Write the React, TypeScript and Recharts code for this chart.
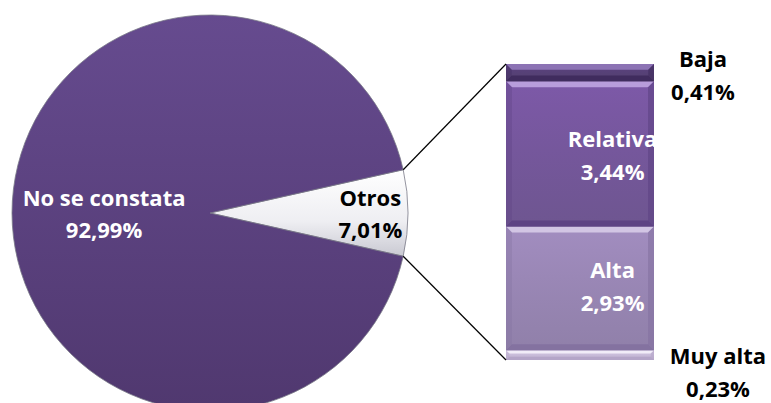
import React from 'react';
import { PieChart, Pie, Cell, BarChart, Bar, XAxis, YAxis, LabelList } from 'recharts';

const pieCategories = ['Otros', 'No se constata'];
const pieValues = [7.01, 92.99];
const pieLabels = ['7,01%', '92,99%'];

const barCategories = ['Muy alta', 'Alta', 'Relativa', 'Baja'];
const barValues = [0.23, 2.93, 3.44, 0.41];
const barLabels = ['0,23%', '2,93%', '3,44%', '0,41%'];
const barKeys = ['muyAlta', 'alta', 'relativa', 'baja'];

const W = 771;
const H = 403;
const PIE_CX = 210;
const PIE_CY = 213;
const PIE_R = 198;
const BAR_MARGIN = { top: 64, bottom: 43, left: 506, right: 117 };

const FONT = '"Open Sans", Lato, sans-serif';
const FS = 22;

const pieData = pieCategories.map((name, i) => ({ name, value: pieValues[i], label: pieLabels[i] }));
const otrosTotal = pieValues[0];
const halfAngle = (otrosTotal / 100) * 360 / 2;

const barRow: Record<string, any> = { name: 'Otros' };
barKeys.forEach((k, i) => { barRow[k] = barValues[i]; });
const barData = [barRow];

const barFills: Record<string, { base: string; light: string; dark: string; text: string }> = {
  muyAlta: { base: '#d6cae6', light: '#f1ecf8', dark: '#b4a5c8', text: '#000' },
  alta: { base: '#a28dc0', light: '#d2c5e4', dark: '#8472a0', text: '#fff' },
  relativa: { base: '#7d59a8', light: '#b89ddb', dark: '#5e4384', text: '#fff' },
  baja: { base: '#5c4282', light: '#8c73b4', dark: '#402c5e', text: '#000' },
};

const makeBevel = (key: string) => (props: any) => {
  const { x, y, width, height } = props;
  const c = barFills[key];
  const b = Math.max(1, Math.min(6, height / 3));
  return (
    <g>
      <rect x={x} y={y} width={width} height={height} fill={`url(#grad-${key})`} />
      <polygon points={`${x},${y} ${x + width},${y} ${x + width - b},${y + b} ${x + b},${y + b}`} fill={c.light} />
      <polygon points={`${x},${y + height} ${x + width},${y + height} ${x + width - b},${y + height - b} ${x + b},${y + height - b}`} fill={c.dark} />
      <polygon points={`${x},${y} ${x + b},${y + b} ${x + b},${y + height - b} ${x},${y + height}`} fill={c.dark} opacity={0.35} />
      <polygon points={`${x + width},${y} ${x + width - b},${y + b} ${x + width - b},${y + height - b} ${x + width},${y + height}`} fill={c.dark} opacity={0.6} />
    </g>
  );
};

const makeBarLabel = (idx: number) => (props: any) => {
  const { x, y, width, height } = props;
  const key = barKeys[idx];
  const c = barFills[key];
  let cx = x + width * 0.72;
  let y1 = y + height / 2 - 16;
  if (key === 'baja') {
    cx = x + width + 49;
    y1 = y - 6;
  } else if (key === 'muyAlta') {
    cx = x + width + 64;
    y1 = y + 5;
  } else if (key === 'alta') {
    y1 = y + height / 2 - 19;
  }
  return (
    <text textAnchor="middle" fill={c.text} fontFamily={FONT} fontWeight={700} fontSize={FS} dominantBaseline="central">
      <tspan x={cx} y={y1}>{barCategories[idx]}</tspan>
      <tspan x={cx} y={y1 + 33}>{barLabels[idx]}</tspan>
    </text>
  );
};

const renderPieLabel = (props: any) => {
  const { cx, cy, midAngle, outerRadius, index } = props;
  const rad = (Math.PI / 180) * midAngle;
  const f = index === 0 ? 0.81 : 0.535;
  const px = cx + outerRadius * f * Math.cos(rad);
  const py = cy - outerRadius * f * Math.sin(rad);
  const color = index === 0 ? '#000' : '#fff';
  return (
    <text textAnchor="middle" fill={color} fontFamily={FONT} fontWeight={700} fontSize={FS} dominantBaseline="central">
      <tspan x={px} y={py - 16}>{pieCategories[index]}</tspan>
      <tspan x={px} y={py + 16}>{pieLabels[index]}</tspan>
    </text>
  );
};

export default function App() {
  const a = (Math.PI / 180) * halfAngle;
  const p1 = { x: PIE_CX + PIE_R * Math.cos(a), y: PIE_CY - PIE_R * Math.sin(a) };
  const p2 = { x: PIE_CX + PIE_R * Math.cos(a), y: PIE_CY + PIE_R * Math.sin(a) };
  const barTop = BAR_MARGIN.top;
  const barBottom = H - BAR_MARGIN.bottom;
  const barLeft = BAR_MARGIN.left;
  return (
    <div style={{ position: 'relative', width: W, height: H, background: '#fff', overflow: 'hidden' }}>
      <style>{'body{margin:0}'}</style>
      <div style={{ position: 'absolute', left: 0, top: 0 }}>
        <PieChart width={W} height={H} margin={{ top: 0, right: 0, bottom: 0, left: 0 }}>
          <defs>
            <linearGradient id="gradMain" x1="0" y1="0" x2="0" y2="1">
              <stop offset="0%" stopColor="#664b8f" />
              <stop offset="100%" stopColor="#50386f" />
            </linearGradient>
            <linearGradient id="gradOtros" x1="0" y1="0" x2="0" y2="1">
              <stop offset="0%" stopColor="#ffffff" />
              <stop offset="60%" stopColor="#eeeef2" />
              <stop offset="100%" stopColor="#c9c9d2" />
            </linearGradient>
          </defs>
          <Pie
            data={pieData}
            dataKey="value"
            nameKey="name"
            cx={PIE_CX}
            cy={PIE_CY}
            outerRadius={PIE_R}
            innerRadius={0}
            startAngle={halfAngle}
            endAngle={halfAngle - 360}
            isAnimationActive={false}
            label={renderPieLabel}
            labelLine={false}
            stroke="#7a7a88"
            strokeWidth={0.8}
          >
            <Cell fill="url(#gradOtros)" />
            <Cell fill="url(#gradMain)" />
          </Pie>
        </PieChart>
      </div>
      <div style={{ position: 'absolute', left: 0, top: 0 }}>
        <BarChart width={W} height={H} data={barData} margin={BAR_MARGIN} barCategoryGap={0}>
          <defs>
            {barKeys.map((k) => (
              <linearGradient key={k} id={`grad-${k}`} x1="0" y1="0" x2="0" y2="1">
                <stop offset="0%" stopColor={barFills[k].base} />
                <stop offset="100%" stopColor={barFills[k].dark} stopOpacity={0.9} />
              </linearGradient>
            ))}
          </defs>
          <XAxis dataKey="name" hide />
          <YAxis hide domain={[0, otrosTotal]} />
          {barKeys.map((k, i) => (
            <Bar key={k} dataKey={k} stackId="s" fill={barFills[k].base} isAnimationActive={false} shape={makeBevel(k)}>
              <LabelList dataKey={k} content={makeBarLabel(i)} />
            </Bar>
          ))}
        </BarChart>
      </div>
      <svg width={W} height={H} style={{ position: 'absolute', left: 0, top: 0, pointerEvents: 'none' }}>
        <line x1={p1.x} y1={p1.y} x2={barLeft} y2={barTop} stroke="#000" strokeWidth={1.2} />
        <line x1={p2.x} y1={p2.y} x2={barLeft} y2={barBottom} stroke="#000" strokeWidth={1.2} />
      </svg>
    </div>
  );
}
